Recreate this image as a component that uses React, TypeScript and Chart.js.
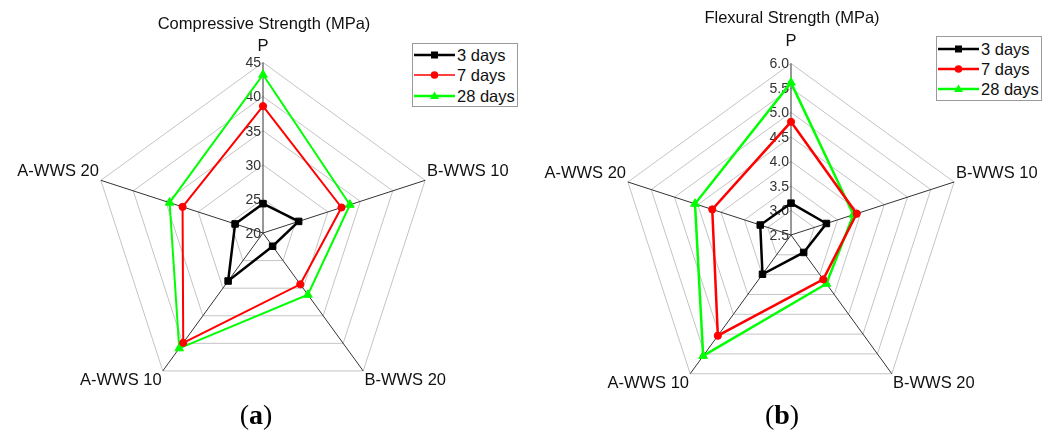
import React, { useEffect, useRef } from "react";
import { Chart, registerables } from "chart.js";

Chart.register(...registerables);

// Radar axes, clockwise from the top
const axisLabels = ["P", "B-WWS 10", "B-WWS 20", "A-WWS 10", "A-WWS 20"];
const seriesLabels = ["3 days", "7 days", "28 days"];

// Compressive strength (MPa)
const compressive3d = [24.3, 25.5, 22.4, 28.7, 24.3];
const compressive7d = [38.6, 32.1, 29.3, 39.9, 32.4];
const compressive28d = [43.2, 33.4, 31.2, 40.9, 34.4];
const compressiveTicks = [20, 25, 30, 35, 40, 45];
const compressiveTickLabels = ["20", "25", "30", "35", "40", "45"];

// Flexural strength (MPa)
const flexural3d = [3.15, 3.26, 2.94, 3.49, 3.16];
const flexural7d = [4.81, 3.91, 3.62, 5.04, 4.19];
const flexural28d = [5.61, 3.84, 3.73, 5.55, 4.56];
const flexuralTicks = [2.5, 3.0, 3.5, 4.0, 4.5, 5.0, 5.5, 6.0];
const flexuralTickLabels = ["2.5", "3.0", "3.5", "4.0", "4.5", "5.0", "5.5", "6.0"];

const seriesColors = ["#000000", "#ff0000", "#00ff00"];
const seriesMarkers = ["rect", "circle", "triangle"];
const markerRadii = [4.6, 3.6, 5];

const FONT = '"Liberation Sans", Arial, Helvetica, sans-serif';
const SERIF = '"Liberation Serif", "Times New Roman", serif';

type PanelProps = {
  series: number[][];
  ticks: number[];
  tickLabels: string[];
  step: number;
  lineWidths: number[];
  topPad: number;
  left: number;
  top: number;
  width: number;
  height: number;
};

function RadarPanel(props: PanelProps) {
  const ref = useRef<HTMLCanvasElement | null>(null);

  useEffect(() => {
    const canvas = ref.current;
    if (!canvas) return;

    // value labels sit just left of the vertical axis, one per ring
    const sideTicks = {
      id: "sideTicks",
      beforeDatasetsDraw(chart: any) {
        const scale = chart.scales.r;
        const ctx = chart.ctx as CanvasRenderingContext2D;
        ctx.save();
        ctx.font = `14px ${FONT}`;
        ctx.fillStyle = "#333333";
        ctx.textAlign = "right";
        ctx.textBaseline = "middle";
        props.ticks.forEach((v, i) => {
          const d = scale.getDistanceFromCenterForValue(v);
          ctx.fillText(props.tickLabels[i], scale.xCenter - 2, scale.yCenter - d + 1);
        });
        ctx.restore();
      },
    };

    const chart = new Chart(canvas, {
      type: "radar",
      data: {
        labels: axisLabels,
        datasets: props.series.map((data, i) => ({
          label: seriesLabels[i],
          data,
          borderColor: seriesColors[i],
          backgroundColor: seriesColors[i],
          pointBackgroundColor: seriesColors[i],
          pointBorderColor: seriesColors[i],
          borderWidth: props.lineWidths[i],
          pointStyle: seriesMarkers[i] as any,
          pointRadius: markerRadii[i],
          pointBorderWidth: 1,
          fill: false,
          tension: 0,
        })),
      },
      options: {
        responsive: false,
        animation: false,
        plugins: {
          legend: { display: false },
          title: { display: false },
          tooltip: { enabled: false },
        },
        scales: {
          r: {
            min: props.ticks[0],
            max: props.ticks[props.ticks.length - 1],
            ticks: { display: false, stepSize: props.step },
            grid: { color: "#c4c4c4", lineWidth: 1 },
            angleLines: { color: "#333333", lineWidth: 1 },
            pointLabels: {
              font: { family: FONT, size: 16.5, lineHeight: 1 },
              color: "#111111",
              padding: (c: any) => (c.index === 0 ? props.topPad : 2),
            },
          },
        },
      },
      plugins: [sideTicks],
    } as any);

    return () => chart.destroy();
  }, []);

  return (
    <canvas
      ref={ref}
      width={props.width}
      height={props.height}
      style={{
        position: "absolute",
        left: props.left,
        top: props.top,
        width: props.width,
        height: props.height,
      }}
    />
  );
}

function MarkerIcon({ index }: { index: number }) {
  const c = seriesColors[index];
  if (index === 0) return <rect x={17} y={2.5} width={7} height={7} fill={c} />;
  if (index === 1) return <circle cx={20.5} cy={6} r={3.8} fill={c} />;
  return <polygon points="20.5,1.5 25,9 16,9" fill={c} />;
}

function Legend({
  left,
  top,
  height,
  rowCenters,
  lineWidths,
}: {
  left: number;
  top: number;
  height: number;
  rowCenters: number[];
  lineWidths: number[];
}) {
  return (
    <div
      style={{
        position: "absolute",
        left,
        top,
        width: 106,
        height,
        boxSizing: "border-box",
        border: "1px solid #9a9a9a",
        background: "#fff",
      }}
    >
      {seriesLabels.map((name, i) => (
        <div key={name}>
          <svg
            width={41}
            height={12}
            style={{ position: "absolute", left: 1, top: rowCenters[i] - 6 }}
          >
            <line x1={0} y1={6} x2={41} y2={6} stroke={seriesColors[i]} strokeWidth={lineWidths[i]} />
            <MarkerIcon index={i} />
          </svg>
          <div
            style={{
              position: "absolute",
              left: 44,
              top: rowCenters[i] - 10,
              height: 20,
              lineHeight: "20px",
              fontFamily: FONT,
              fontSize: 16.5,
              color: "#111",
              whiteSpace: "nowrap",
            }}
          >
            {name}
          </div>
        </div>
      ))}
    </div>
  );
}

function Caption({ x, top, text }: { x: number; top: number; text: string }) {
  return (
    <div
      style={{
        position: "absolute",
        left: x,
        top,
        transform: "translateX(-50%)",
        fontFamily: FONT,
        fontSize: 16.5,
        lineHeight: "16.5px",
        color: "#111",
        whiteSpace: "nowrap",
      }}
    >
      {text}
    </div>
  );
}

function PanelTag({ x, top, letter }: { x: number; top: number; letter: string }) {
  return (
    <div
      style={{
        position: "absolute",
        left: x,
        top,
        transform: "translateX(-50%)",
        fontFamily: SERIF,
        fontSize: 28,
        lineHeight: "28px",
        color: "#000",
        whiteSpace: "nowrap",
      }}
    >
      (<b>{letter}</b>)
    </div>
  );
}

export default function App() {
  return (
    <div
      style={{
        position: "absolute",
        left: 0,
        top: 0,
        width: 1056,
        height: 432,
        overflow: "hidden",
        background: "#ffffff",
      }}
    >
      <RadarPanel
        series={[compressive3d, compressive7d, compressive28d]}
        ticks={compressiveTicks}
        tickLabels={compressiveTickLabels}
        step={5}
        lineWidths={[2.5, 2, 2]}
        topPad={8}
        left={0}
        top={26}
        width={528}
        height={390}
      />
      <RadarPanel
        series={[flexural3d, flexural7d, flexural28d]}
        ticks={flexuralTicks}
        tickLabels={flexuralTickLabels}
        step={0.5}
        lineWidths={[2.5, 2.5, 2.5]}
        topPad={14}
        left={528}
        top={18}
        width={528}
        height={405}
      />
      <Caption x={264} top={15} text="Compressive Strength (MPa)" />
      <Caption x={792} top={9} text="Flexural Strength (MPa)" />
      <Legend left={412} top={43} height={64} rowCenters={[11, 31, 52]} lineWidths={[2.5, 1.5, 2.5]} />
      <Legend left={936} top={36} height={65} rowCenters={[12, 32, 52]} lineWidths={[2.5, 2.5, 2.5]} />
      <PanelTag x={256} top={401} letter="a" />
      <PanelTag x={782} top={401} letter="b" />
    </div>
  );
}
